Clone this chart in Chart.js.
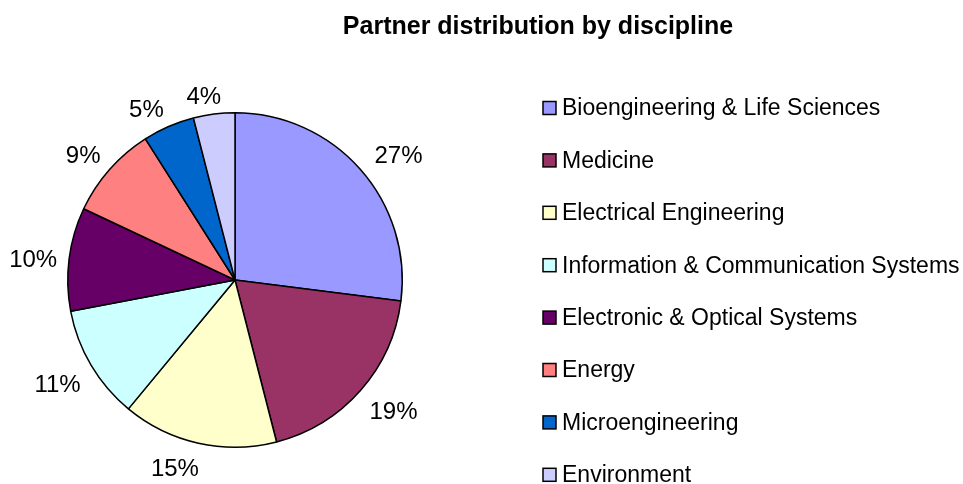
<!DOCTYPE html>
<html>
<head>
<meta charset="utf-8">
<script src="https://cdn.jsdelivr.net/npm/chart.js@4/dist/chart.umd.min.js"></script>
<style>
  html, body { margin: 0; padding: 0; background: #fff; }
  #wrap { width: 963px; height: 484px; position: relative; }
</style>
</head>
<body>
<div id="wrap"><canvas id="c" width="963" height="484"></canvas></div>
<script>
const chartTitle = "Partner distribution by discipline";
const categories = [
  "Bioengineering & Life Sciences",
  "Medicine",
  "Electrical Engineering",
  "Information & Communication Systems",
  "Electronic & Optical Systems",
  "Energy",
  "Microengineering",
  "Environment"
];
const shares = [27, 19, 15, 11, 10, 9, 5, 4];
const colors = ["#9999FF", "#993366", "#FFFFCC", "#CCFFFF", "#660066", "#FF8080", "#0066CC", "#CCCCFF"];

const FONT = 'Arial, "Liberation Sans", sans-serif';

const decorPlugin = {
  id: 'decor',
  afterDatasetsDraw(chart) {
    const ctx = chart.ctx;
    ctx.save();
    // title
    ctx.fillStyle = '#000';
    ctx.font = 'bold 25px ' + FONT;
    ctx.textAlign = 'center';
    ctx.textBaseline = 'middle';
    ctx.fillText(chartTitle, 538, 27);

    // percentage labels
    const meta = chart.getDatasetMeta(0);
    const total = shares.reduce((a, b) => a + b, 0);
    ctx.font = '24px ' + FONT;
    meta.data.forEach((arc, i) => {
      const p = arc.getProps(['x', 'y', 'startAngle', 'endAngle', 'outerRadius'], true);
      const mid = (p.startAngle + p.endAngle) / 2;
      const c = Math.cos(mid), s = Math.sin(mid);
      const txt = Math.round(shares[i] / total * 100) + '%';
      const w = ctx.measureText(txt).width;
      const r = p.outerRadius + 12;
      const cl = (v) => Math.max(-1, Math.min(1, v));
      const x = p.x + r * c + (w / 2) * cl(c * 4) + (c > 0 && s < 0 ? 5 : 0);
      const y = p.y + r * s + 11 * cl(s * 2) + (s < 0 ? 6 : 3);
      ctx.fillText(txt, x, y);
    });

    // legend
    ctx.textAlign = 'left';
    ctx.font = '23px ' + FONT;
    const x0 = 543, y0 = 108, step = 52.4, box = 13;
    categories.forEach((lab, i) => {
      const y = y0 + i * step;
      ctx.fillStyle = colors[i];
      ctx.fillRect(x0, y - box / 2, box, box);
      ctx.strokeStyle = '#000';
      ctx.lineWidth = 1.5;
      ctx.strokeRect(x0, y - box / 2, box, box);
      ctx.fillStyle = '#000';
      ctx.fillText(lab, x0 + 19, y + 1);
    });
    ctx.restore();
  }
};

new Chart(document.getElementById('c'), {
  type: 'pie',
  data: {
    labels: categories,
    datasets: [{
      data: shares,
      backgroundColor: colors,
      borderColor: '#000',
      borderWidth: 1.5
    }]
  },
  options: {
    responsive: false,
    animation: false,
    layout: { padding: { left: 67, top: 112, right: 560, bottom: 36 } },
    plugins: {
      legend: { display: false },
      title: { display: false },
      tooltip: { enabled: false }
    }
  },
  plugins: [decorPlugin]
});
</script>
</body>
</html>
